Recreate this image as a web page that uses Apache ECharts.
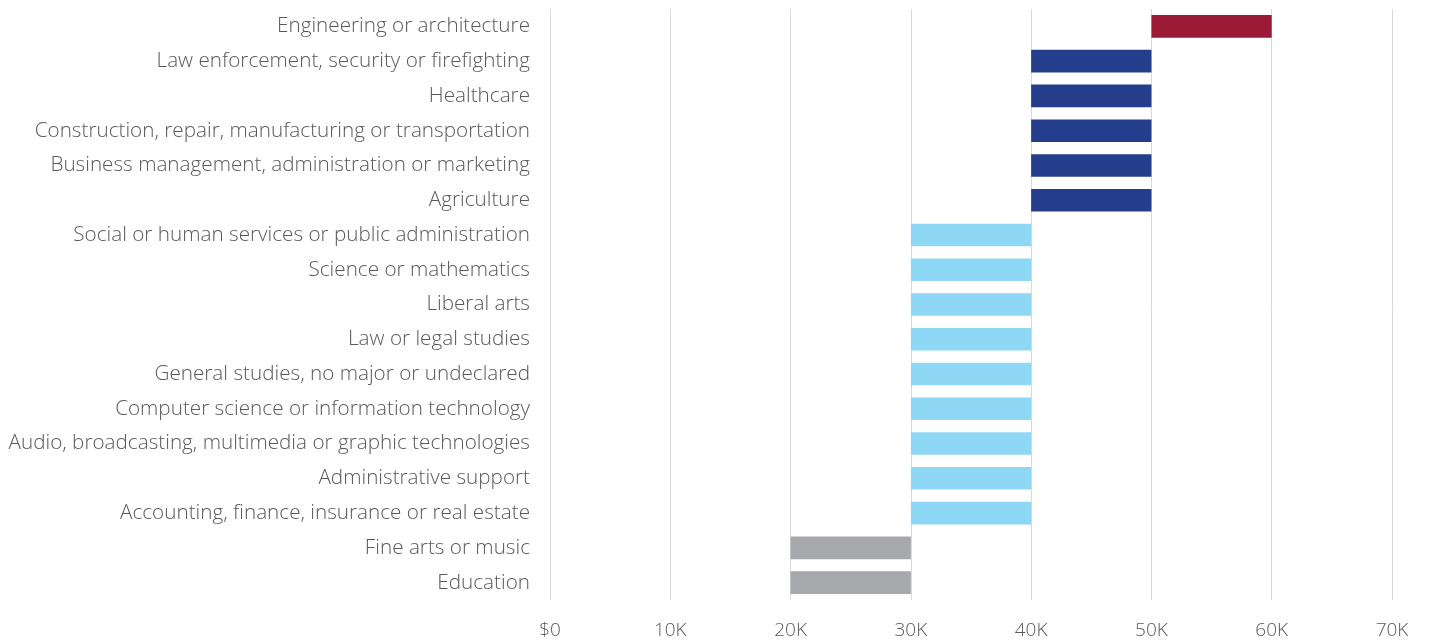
<!DOCTYPE html>
<html>
<head>
<meta charset="utf-8">
<script src="https://cdn.jsdelivr.net/npm/echarts@6/dist/echarts.min.js"></script>
<style>html,body{margin:0;padding:0;background:#fff}#c{width:1429px;height:641px}</style>
</head>
<body>
<div id="c"></div>
<script>
var categories = [
  "Engineering or architecture",
  "Law enforcement, security or firefighting",
  "Healthcare",
  "Construction, repair, manufacturing or transportation",
  "Business management, administration or marketing",
  "Agriculture",
  "Social or human services or public administration",
  "Science or mathematics",
  "Liberal arts",
  "Law or legal studies",
  "General studies, no major or undeclared",
  "Computer science or information technology",
  "Audio, broadcasting, multimedia or graphic technologies",
  "Administrative support",
  "Accounting, finance, insurance or real estate",
  "Fine arts or music",
  "Education"
];
var lowValues  = [50000,40000,40000,40000,40000,40000,30000,30000,30000,30000,30000,30000,30000,30000,30000,20000,20000];
var highValues = [60000,50000,50000,50000,50000,50000,40000,40000,40000,40000,40000,40000,40000,40000,40000,30000,30000];
var groupColors = {"60K":"#9B1B36","50K":"#243E8C","40K":"#8FD8F5","30K":"#A7A8AB"};
var xTicks = ["$0","10K","20K","30K","40K","50K","60K","70K"];

var rangeData = highValues.map(function(h, i){
  var key = (h/1000) + "K";
  return {value: h - lowValues[i], itemStyle: {color: groupColors[key]}};
});

var chart = echarts.init(document.getElementById('c'));
chart.setOption({
  animation: false,
  grid: {left: 550, right: 37, top: 9, bottom: 41, containLabel: false},
  xAxis: {
    type: 'value', min: 0, max: 70000, interval: 10000,
    axisLine: {show: false}, axisTick: {show: false},
    splitLine: {lineStyle: {color: '#D9D9D9', width: 1}},
    axisLabel: {
      formatter: function(v){ return xTicks[Math.round(v/10000)]; },
      color: '#595959', fontFamily: 'Open Sans', fontWeight: 300, fontSize: 19, margin: 21
    }
  },
  yAxis: {
    type: 'category', data: categories, inverse: true,
    axisLine: {show: false}, axisTick: {show: false},
    axisLabel: {color: '#595959', fontFamily: 'Open Sans', fontWeight: 300, fontSize: 20.7, margin: 20}
  },
  series: [
    {type: 'bar', stack: 'r', data: lowValues, itemStyle: {color: 'transparent'}, barCategoryGap: '35%', silent: true},
    {type: 'bar', stack: 'r', data: rangeData, barCategoryGap: '35%'}
  ]
});
</script>
</body>
</html>
